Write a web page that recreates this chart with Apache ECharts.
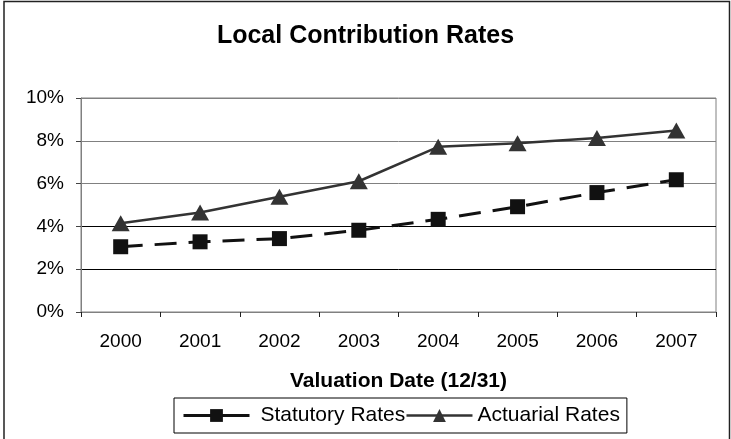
<!DOCTYPE html>
<html><head><meta charset="utf-8">
<script src="https://cdn.jsdelivr.net/npm/echarts@6/dist/echarts.min.js"></script>
<style>html,body{margin:0;padding:0;background:#fff}#c{width:731px;height:439px}</style>
</head><body><div id="c"></div>
<script>
var categories = ['2000','2001','2002','2003','2004','2005','2006','2007'];
var statutoryRates = [3.05, 3.28, 3.43, 3.82, 4.33, 4.92, 5.58, 6.18];
var actuarialRates = [4.15, 4.65, 5.39, 6.11, 7.72, 7.89, 8.13, 8.48];
var yTicks = [0, 2, 4, 6, 8, 10];

var FONT = '"Liberation Sans", Arial, sans-serif';
var chart = echarts.init(document.getElementById('c'));
chart.setOption({
  animation: false,
  backgroundColor: '#fff',
  title: {
    text: 'Local Contribution Rates', left: 'center', top: 19,
    textStyle: { fontFamily: FONT, fontSize: 25, fontWeight: 'bold', color: '#000' }
  },
  graphic: [{
    type: 'rect', silent: true,
    shape: { x: 4, y: 1.5, width: 725.5, height: 445 },
    style: { fill: 'none', stroke: '#222', lineWidth: 1.5 }
  }],
  grid: { left: 81, right: 15, top: 98, bottom: 127, show: true, borderColor: '#808080', borderWidth: 1 },
  legend: {
    left: 174, top: 398,
    padding: [7, 7, 7, 8], itemGap: 0,
    borderColor: '#000', borderWidth: 1,
    itemWidth: 66, itemHeight: 16,
    textStyle: { fontFamily: FONT, fontSize: 21, color: '#000' },
    data: [
      { name: 'Statutory Rates', lineStyle: { type: 'solid', width: 3 }, textStyle: { padding: [0, 0, 0, 6] } },
      { name: 'Actuarial Rates', lineStyle: { width: 2.5 }, textStyle: { padding: [0, 0, 0, 0] } }
    ]
  },
  xAxis: {
    type: 'category', data: categories, boundaryGap: true,
    name: 'Valuation Date (12/31)', nameLocation: 'middle', nameGap: 59,
    nameTextStyle: { fontFamily: FONT, fontSize: 21, fontWeight: 'bold', color: '#000' },
    axisLine: { lineStyle: { color: '#808080', width: 1 } },
    axisTick: { show: true, length: 5, alignWithLabel: false, lineStyle: { color: '#222' } },
    axisLabel: { fontFamily: FONT, fontSize: 19, color: '#000', margin: 20 },
    splitLine: { show: false }
  },
  yAxis: {
    type: 'value', min: yTicks[0], max: yTicks[yTicks.length - 1], interval: 2,
    axisLine: { show: true, lineStyle: { color: '#808080', width: 1 } },
    axisTick: { show: true, length: 5, lineStyle: { color: '#444' } },
    axisLabel: { fontFamily: FONT, fontSize: 19, color: '#000', margin: 17, formatter: '{value}%' },
    splitLine: { show: true, lineStyle: { color: ['#000', '#000', '#000', '#808080', '#808080', '#808080'], width: 1 } }
  },
  series: [
    {
      name: 'Statutory Rates', type: 'line', data: statutoryRates,
      symbol: 'rect', symbolSize: 15,
      lineStyle: { color: '#111', width: 3, type: [22, 12] },
      itemStyle: { color: '#111' }, z: 3
    },
    {
      name: 'Actuarial Rates', type: 'line', data: actuarialRates,
      symbol: 'triangle', symbolSize: [18, 16],
      lineStyle: { color: '#333', width: 2.5, type: 'solid' },
      itemStyle: { color: '#333' }, z: 3
    }
  ]
});
</script></body></html>
